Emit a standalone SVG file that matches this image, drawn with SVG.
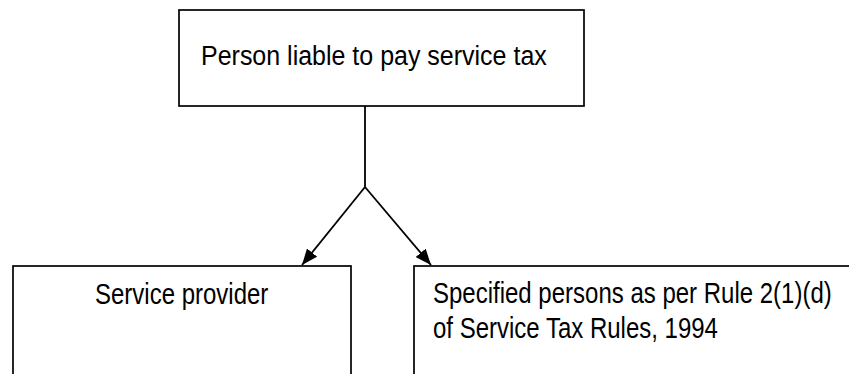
<svg xmlns="http://www.w3.org/2000/svg" width="849" height="374" viewBox="0 0 849 374">
<defs>
<style>
.box{fill:#fff;stroke:#000;stroke-width:1.7}
.t{font-family:"Liberation Sans",Arial,sans-serif;fill:#000}
.c{fill:none;stroke:#000;stroke-width:1.8}
</style>
<marker id="ah" viewBox="0 0 16 13" refX="16" refY="6.5" markerWidth="16" markerHeight="13" markerUnits="userSpaceOnUse" orient="auto">
<path d="M0,0 L16,6.5 L0,13 Z" fill="#000"/>
</marker>
</defs>
<rect width="849" height="374" fill="#fff"/>
<g id="top">
<rect class="box" x="179" y="10" width="405" height="96"/>
<text class="t" font-size="25" transform="translate(201,64.5) scale(1,1.13)">Person liable to pay service tax</text>
</g>
<g id="left">
<rect class="box" x="13" y="266" width="338" height="120"/>
<text class="t" font-size="24" transform="translate(95,304) scale(1,1.2)">Service provider</text>
</g>
<g id="right">
<rect class="box" x="414" y="266" width="450" height="120"/>
<text class="t" font-size="24" transform="translate(433,303) scale(1,1.2)">Specified persons as per Rule 2(1)(d)</text>
<text class="t" font-size="24" transform="translate(433,338) scale(1,1.2)">of Service Tax Rules, 1994</text>
</g>
<g id="connectors">
<path class="c" d="M365,106 L365,187"/>
<path class="c" d="M365,187 L302,265" marker-end="url(#ah)"/>
<path class="c" d="M365,187 L431,265" marker-end="url(#ah)"/>
</g>
</svg>
